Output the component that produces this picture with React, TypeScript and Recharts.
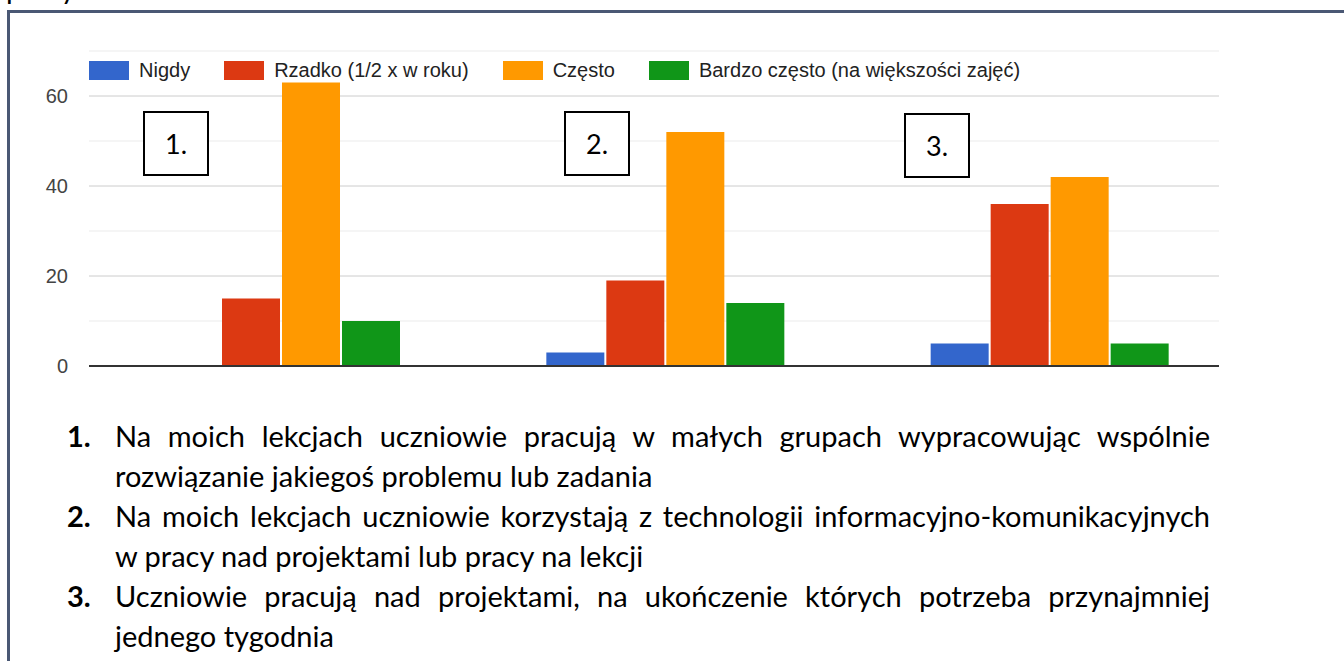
import { Bar, BarChart, CartesianGrid, ReferenceLine, XAxis, YAxis } from 'recharts';

const categories = ['1.', '2.', '3.'];
const nigdy = [0, 3, 5];
const rzadko = [15, 19, 36];
const czesto = [63, 52, 42];
const bardzoCzesto = [10, 14, 5];

const seriesKeys = ['nigdy', 'rzadko', 'czesto', 'bardzo'];
const seriesNames = ['Nigdy', 'Rzadko (1/2 x w roku)', 'Często', 'Bardzo często (na większości zajęć)'];
const COLORS = ['#3366cc', '#dc3912', '#ff9900', '#109618'];

const yTicks = [0, 10, 20, 30, 40, 50, 60, 70];
const yLabels = [0, 20, 40, 60];
const minorLines = [10, 30, 50, 70];
const majorLines = [20, 40, 60];

const descriptions = [
  [
    'Na moich lekcjach uczniowie pracują w małych grupach wypracowując wspólnie',
    'rozwiązanie jakiegoś problemu lub zadania',
  ],
  [
    'Na moich lekcjach uczniowie korzystają z technologii informacyjno-komunikacyjnych',
    'w pracy nad projektami lub pracy na lekcji',
  ],
  [
    'Uczniowie pracują nad projektami, na ukończenie których potrzeba przynajmniej',
    'jednego tygodnia',
  ],
];

const data = categories.map((name, i) => ({
  name,
  nigdy: nigdy[i],
  rzadko: rzadko[i],
  czesto: czesto[i],
  bardzo: bardzoCzesto[i],
}));

const boxPos = [
  { left: 143, top: 111 },
  { left: 564, top: 111 },
  { left: 904, top: 113 },
];

const CHART_FONT = '"Liberation Sans", Arial, sans-serif';
const DOC_FONT = 'Lato, "Open Sans", sans-serif';

const YTick = ({ x, y, payload }: any) =>
  yLabels.includes(payload.value) ? (
    <text x={x} y={y} dy="0.35em" textAnchor="end" fill="#444" fontSize={20} fontFamily={CHART_FONT}>
      {payload.value}
    </text>
  ) : (
    <g />
  );

const App = (): JSX.Element => {
  return (
    <div
      style={{
        position: 'fixed',
        left: 0,
        top: 0,
        width: 1344,
        height: 661,
        overflow: 'hidden',
        background: '#fff',
      }}
    >
      {/* cut-off text from the page above */}
      <div
        style={{
          position: 'absolute',
          left: 6,
          top: -32,
          fontFamily: DOC_FONT,
          fontSize: 29,
          lineHeight: '40px',
          color: '#000',
        }}
      >
        pracy
      </div>

      {/* frame */}
      <div
        style={{
          position: 'absolute',
          left: 7,
          top: 10,
          width: 1400,
          height: 700,
          border: '3px solid #4a5874',
        }}
      />

      <div style={{ position: 'absolute', left: 0, top: 0 }}>
        <BarChart
          width={1344}
          height={400}
          data={data}
          margin={{ top: 51, right: 125, bottom: 34, left: 0 }}
          barSize={58}
          barGap={2}
        >
          <CartesianGrid vertical={false} horizontalValues={minorLines} stroke="#ebebeb" />
          <CartesianGrid vertical={false} horizontalValues={majorLines} stroke="#cccccc" />
          <XAxis
            dataKey="name"
            height={0}
            tick={false}
            tickLine={false}
            axisLine={false}
            padding={{ left: 0, right: -23 }}
          />
          <YAxis
            width={89}
            domain={[0, 70]}
            ticks={yTicks}
            interval={0}
            axisLine={false}
            tickLine={false}
            tickSize={0}
            tickMargin={21}
            tick={<YTick />}
          />
          {seriesKeys.map((key, i) => (
            <Bar key={key} dataKey={key} name={seriesNames[i]} fill={COLORS[i]} isAnimationActive={false} />
          ))}
          <ReferenceLine y={0} stroke="#333" strokeWidth={2} />
        </BarChart>
      </div>

      {/* legend */}
      <div
        style={{
          position: 'absolute',
          left: 89,
          top: 61,
          display: 'flex',
          alignItems: 'center',
          height: 19,
          fontFamily: CHART_FONT,
          fontSize: 20,
          color: '#222',
          whiteSpace: 'nowrap',
        }}
      >
        {seriesNames.map((name, i) => (
          <div key={name} style={{ display: 'flex', alignItems: 'center', marginRight: 34 }}>
            <div style={{ width: 40, height: 19, background: COLORS[i] }} />
            <span style={{ marginLeft: 10 }}>{name}</span>
          </div>
        ))}
      </div>

      {/* numbered boxes */}
      {categories.map((label, i) => (
        <div
          key={label}
          style={{
            position: 'absolute',
            left: boxPos[i].left,
            top: boxPos[i].top,
            width: 62,
            height: 61,
            border: '2px solid #000',
            background: '#fff',
            display: 'flex',
            alignItems: 'center',
            justifyContent: 'center',
            fontFamily: DOC_FONT,
            fontSize: 27,
            color: '#000',
          }}
        >
          {label}
        </div>
      ))}

      {/* descriptions */}
      <div
        style={{
          position: 'absolute',
          left: 67,
          top: 416,
          fontFamily: DOC_FONT,
          fontSize: 29,
          lineHeight: '40px',
          color: '#000',
        }}
      >
        {descriptions.map((lines, i) => (
          <div key={i} style={{ position: 'relative', paddingLeft: 48 }}>
            <span style={{ position: 'absolute', left: 0, top: 0, fontWeight: 700 }}>{categories[i]}</span>
            <div
              style={{
                width: 1095,
                whiteSpace: 'nowrap',
                textAlign: 'justify',
                textAlignLast: 'justify',
              }}
            >
              {lines[0]}
            </div>
            <div style={{ whiteSpace: 'nowrap' }}>{lines[1]}</div>
          </div>
        ))}
      </div>
    </div>
  );
};

export default App;
